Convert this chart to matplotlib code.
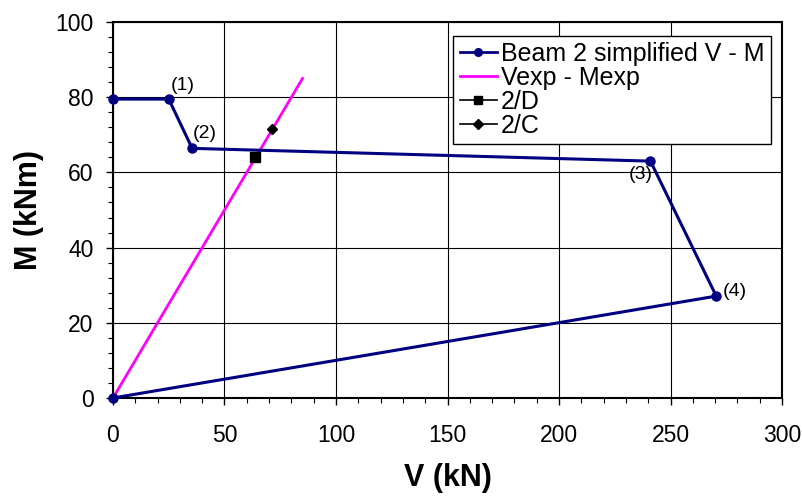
import matplotlib

matplotlib.use("Agg")
import matplotlib.pyplot as plt  # noqa: E402
from matplotlib.ticker import MultipleLocator  # noqa: E402

plt.rcParams["font.family"] = ["Liberation Sans", "DejaVu Sans"]

# beam 2 simplified V-M envelope
beam_v = [0, 25, 35.5, 241, 270.5, 0]
beam_m = [79.5, 79.5, 66.4, 63.0, 27.1, 0]
point_names = ["(1)", "(2)", "(3)", "(4)"]
point_idx = [1, 2, 3, 4]
# label placement relative to the point: (dx px, dy px, ha, va)
label_pos = [(2, 5, "left", "bottom"), (1, 6, "left", "bottom"),
             (2, -5, "right", "top"), (6, 5, "left", "center")]

# experimental V-M relation
exp_v = [0, 85]
exp_m = [0, 85]

d_v, d_m = [63.7], [64.2]
c_v, c_m = [71.2], [71.5]

fig = plt.figure(figsize=(8.03, 4.96), dpi=100)
ax = fig.add_axes([0.1407, 0.1976, 0.8332, 0.758])

ax.plot(beam_v, beam_m, color="#000080", lw=2.2, marker="o", ms=6.5,
        label="Beam 2 simplified V - M", zorder=4, clip_on=False)
ax.plot(exp_v, exp_m, color="#ff00ff", lw=2, label="Vexp - Mexp", zorder=3)
ax.plot(d_v, d_m, color="black", marker="s", ms=7, lw=1, label="2/D", zorder=5)
ax.plot(c_v, c_m, color="black", marker="D", ms=5, lw=1, label="2/C", zorder=5)

for name, i, (dx, dy, ha, va) in zip(point_names, point_idx, label_pos):
    ax.annotate(name, (beam_v[i], beam_m[i]), xytext=(dx, dy), textcoords="offset pixels",
                ha=ha, va=va, fontsize=14, zorder=6)

ax.set_xlim(0, 300)
ax.set_ylim(0, 100)
ax.xaxis.set_major_locator(MultipleLocator(50))
ax.xaxis.set_minor_locator(MultipleLocator(10))
ax.yaxis.set_major_locator(MultipleLocator(20))
ax.yaxis.set_minor_locator(MultipleLocator(4))
ax.tick_params(which="major", direction="out", length=5, width=1, labelsize=16.5)
ax.tick_params(axis="x", which="major", pad=14)
ax.tick_params(axis="y", which="major", pad=9)
ax.tick_params(which="minor", direction="out", length=3.6, width=0.8)
ax.grid(which="major", color="black", lw=0.8)
for s in ax.spines.values():
    s.set_linewidth(1.5)

ax.set_xlabel("V (kN)", fontsize=22, fontweight="bold", labelpad=11)
ax.set_ylabel("M (kNm)", fontsize=22, fontweight="bold", labelpad=8)

leg = ax.legend(loc="upper right", bbox_to_anchor=(0.983, 0.963), fontsize=18,
                frameon=True, fancybox=False, edgecolor="black", framealpha=1,
                handlelength=1.5, handletextpad=0.15, borderpad=0.25, labelspacing=0.0,
                borderaxespad=0)
leg.get_frame().set_linewidth(1)
for h in leg.legend_handles:
    h.set_markersize(5.5)
    h.set_linewidth(1.2 if h.get_color() == "black" else 2)

fig.savefig("out.png", dpi=100)
